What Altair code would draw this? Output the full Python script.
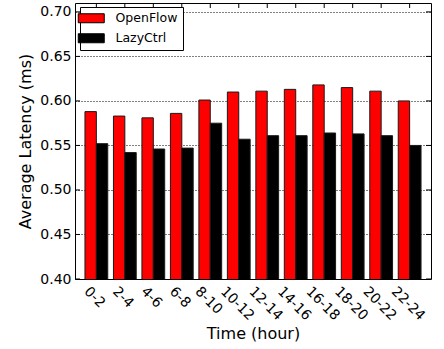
import altair as alt
import pandas as pd

times = ["0-2", "2-4", "4-6", "6-8", "8-10", "10-12", "12-14", "14-16",
         "16-18", "18-20", "20-22", "22-24"]
openflow = [0.588, 0.583, 0.581, 0.586, 0.601, 0.610, 0.611, 0.613, 0.618, 0.615, 0.611, 0.600]
lazyctrl = [0.552, 0.542, 0.546, 0.547, 0.575, 0.557, 0.561, 0.561, 0.564, 0.563, 0.561, 0.550]
series = ["OpenFlow", "LazyCtrl"]
colors = ["#ff0000", "#000000"]
y_ticks = [0.40, 0.45, 0.50, 0.55, 0.60, 0.65, 0.70]

rows = []
for t, o, l in zip(times, openflow, lazyctrl):
    rows.append({"time": t, "series": "OpenFlow", "value": o})
    rows.append({"time": t, "series": "LazyCtrl", "value": l})
df = pd.DataFrame(rows)
df_times = pd.DataFrame({"time": times})
df_yt = pd.DataFrame({"value": y_ticks})

FONT = "DejaVu Sans"
W, H = 356, 276

xscale = alt.Scale(domain=times, paddingInner=0.2, paddingOuter=0.35)
yscale = alt.Scale(domain=[0.40, 0.71], nice=False, zero=False)

bars = alt.Chart(df).mark_bar(stroke="#1a1a1a", strokeWidth=1, clip=True).encode(
    x=alt.X("time:N", scale=xscale, sort=times,
            axis=alt.Axis(title="Time (hour)", labelAngle=45, labelAlign="left",
                          labelBaseline="top", labelOverlap=False, labelPadding=5,
                          labelFontSize=14, titleFontSize=16, titlePadding=3,
                          labelOffset={"condition": [
                              {"test": "length(datum.label) == 3", "value": -5},
                              {"test": "length(datum.label) == 4", "value": -8}],
                              "value": -11},
                          grid=False, ticks=False, domain=False)),
    xOffset=alt.XOffset("series:N", sort=series,
                        scale=alt.Scale(domain=series, paddingInner=0, paddingOuter=0)),
    y=alt.Y("value:Q", scale=yscale,
            axis=alt.Axis(title="Average Latency (ms)", values=y_ticks, format=".2f",
                          labelFontSize=14, titleFontSize=16, labelPadding=4,
                          titlePadding=6, grid=True, gridDash=[1, 2], gridColor="#000000",
                          gridWidth=1, ticks=False, domain=False)),
    color=alt.Color("series:N", scale=alt.Scale(domain=series, range=colors),
                    legend=alt.Legend(orient="none", legendX=5, legendY=4, title=None,
                                      symbolType="M-2.6,-0.9L2.6,-0.9L2.6,0.9L-2.6,0.9Z",
                                      symbolSize=100, symbolStrokeColor="black",
                                      symbolStrokeWidth=1, labelFont=FONT,
                                      labelFontSize=12.5, labelOffset=18, rowPadding=6,
                                      padding=5, strokeColor="black", fillColor="white",
                                      cornerRadius=0, labelColor="black")),
)

top_ticks = alt.Chart(df_times).mark_rule(color="black", strokeWidth=1).encode(
    x=alt.X("time:N", scale=xscale, sort=times),
    y=alt.value(0), y2=alt.value(5))

left_ticks = alt.Chart(df_yt).mark_rule(color="black", strokeWidth=1).encode(
    y=alt.Y("value:Q", scale=yscale),
    x=alt.value(0), x2=alt.value(5))

right_ticks = alt.Chart(df_yt).mark_rule(color="black", strokeWidth=1).encode(
    y=alt.Y("value:Q", scale=yscale),
    x=alt.value(W - 5), x2=alt.value(W))

chart = alt.layer(bars, top_ticks, left_ticks, right_ticks).properties(
    width=W, height=H,
    autosize=alt.AutoSizeParams(type="none"),
    padding={"left": 75, "top": 3, "right": 13, "bottom": 70},
    background="white",
).configure_view(stroke="black", strokeWidth=1).configure_axis(
    labelFont=FONT, titleFont=FONT, labelColor="black", titleColor="black",
    titleFontWeight="normal",
)

chart.save("out.html", embed_options={"renderer": "svg", "actions": False})
